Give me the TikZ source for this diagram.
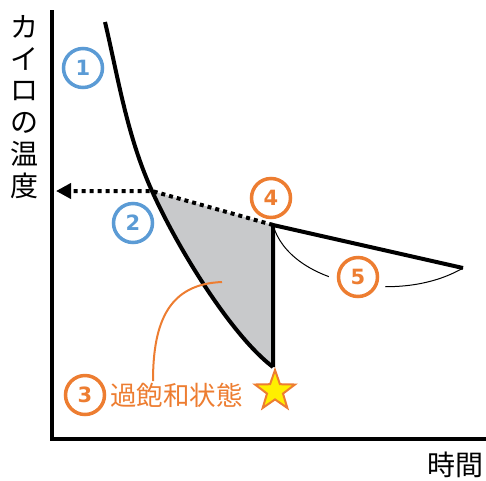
\documentclass[tikz,border=0pt]{standalone}
\usepackage{fontspec}
\newfontfamily\cjk{Noto Sans CJK JP}
\newfontfamily\digitfont{DejaVu Sans}
\usetikzlibrary{arrows.meta,shapes.geometric}
\definecolor{cblue}{HTML}{5B9BD5}
\definecolor{corange}{HTML}{ED7D31}
\definecolor{cgray}{HTML}{C8C9CB}
\definecolor{cyellow}{HTML}{FFEF00}
\begin{document}
\begin{tikzpicture}[x=1pt,y=-1pt,
  numc/.style={circle,draw=#1,line width=3.5pt,minimum size=39pt,inner sep=0pt,
    text=#1,font=\digitfont\bfseries\fontsize{21}{21}\selectfont},
  gapc/.style={circle,fill=white,minimum size=58pt,inner sep=0pt},
  thick line/.style={line width=4pt},
  axis line/.style={line width=4.5pt,line join=miter},
  lbl/.style={inner sep=0pt,font=\cjk\fontsize{28}{31.8}\selectfont,align=center}]
\useasboundingbox (0,0) rectangle (486,480);
% coordinates
\coordinate (ytop) at (52,10);
\coordinate (origin) at (52,439);
\coordinate (xend) at (486,439);
\coordinate (c0) at (105,22);
\coordinate (c1) at (152,191);
\coordinate (c2) at (273,367);
\coordinate (p4) at (273,225);
\coordinate (p5) at (463,268);
\coordinate (arr) at (56,191);
\coordinate (l0) at (222,282);
% shaded region
\fill[cgray] (c1) .. controls (179,251) and (233,337) .. (c2) -- (p4) -- cycle;
% axes
\draw[axis line] (ytop) -- (origin) -- (xend);
% curve
\draw[thick line] (c0) .. controls (118,77) and (127,136) .. (c1)
  .. controls (179,251) and (233,337) .. (c2);
\draw[thick line,line join=miter] (c2) -- (p4) -- (p5);
% dotted arrow
\draw[line width=4pt,dash pattern=on 4pt off 4pt,-{Triangle[length=15pt,width=15pt]}] (p4) -- (c1) -- (arr);
% thin brace curve
\draw[line width=1pt] (p4) .. controls (290,285) and (400,305) .. (p5);
\node[gapc] (g5) at (358,277) {};
% numbers
\node[numc=cblue] (n1) at (83,68) {1};
\node[numc=cblue] (n2) at (133,223) {2};
\node[numc=corange] (n3) at (85,395) {3};
\node[numc=corange] (n4) at (271,198) {4};
\node[numc=corange] (n5) at (g5) {5};
% label 3
\node[inner sep=0pt,anchor=west,text=corange,font=\cjk\fontsize{26.5}{26.5}\selectfont] (t3) at (110,395) {過飽和状態};
\draw[corange,line width=2pt] (l0) .. controls (170,284) and (153,320) .. (153,381);
% star
\node[star,star points=5,star point ratio=2.5,minimum size=42pt,inner sep=0pt,
  fill=cyellow,draw=corange,line width=2pt] (star) at (275,391) {};
% axis labels
\node[lbl] (ylab) at (24,107) {カ\\イ\\ロ\\の\\温\\度};
\node[lbl] (xlab) at (455,465) {時間};
\end{tikzpicture}
\end{document}
